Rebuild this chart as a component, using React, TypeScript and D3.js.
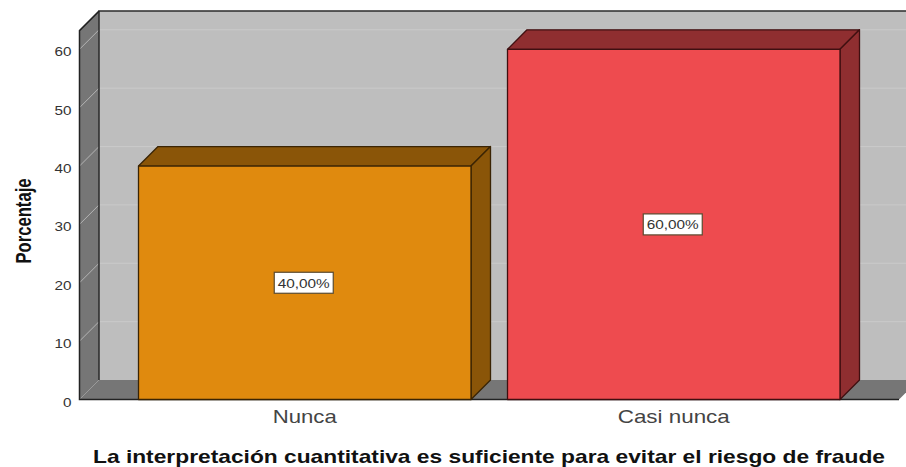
import React from "react";
import * as d3 from "d3";

const categories = ["Nunca", "Casi nunca"];
const values = [40, 60];
const labels = ["40,00%", "60,00%"];
const yTicks = [0, 10, 20, 30, 40, 50, 60];
const frontColors = ["#e08a0e", "#ee4b4f"];
const topColors = ["#8a5508", "#8f2e30"];
const sideColors = ["#8a5508", "#8f2e30"];
const edgeColors = ["#3a2404", "#3f0f10"];

const W = 906, H = 467;
const depth = 19.5;
const drop = 19.5;
const left = 79.5, right = 899;
const y = d3.scaleLinear().domain([0, 60]).range([399.5, 49.3]);
const yMax = 63.2;
const font = "'Liberation Sans', Arial, sans-serif";

const poly = (p: number[][]) => p.map(a => a.join(",")).join(" ");

export default function App() {
  const top = y(yMax);
  const barW = 332.5;
  const barX = [138.5, 507.5];
  const catW = [64, 112];
  return (
    <svg width={W} height={H} style={{ position: "absolute", left: 0, top: 0, background: "#fff" }}>
      <rect x={left + depth} y={top - drop} width={W} height={y(0) - top} fill="#bebebe" />
      <polygon points={poly([[left, top], [left + depth, top - drop], [left + depth, y(0) - drop], [left, y(0)]])} fill="#767676" />
      <polygon points={poly([[left, y(0)], [left + depth, y(0) - drop], [right + depth, y(0) - drop], [right, y(0)]])} fill="#767676" />
      {yTicks.slice(1).map(t => (
        <g key={t}>
          <line x1={left + depth} x2={W} y1={y(t) - drop} y2={y(t) - drop} stroke="#cacaca" strokeWidth={1} />
          <line x1={left} x2={left + depth} y1={y(t)} y2={y(t) - drop} stroke="#b4b4b4" strokeWidth={1} />
        </g>
      ))}
      <line x1={left} x2={left + depth} y1={y(0)} y2={y(0) - drop} stroke="#9a9a9a" strokeWidth={1} />
      <polyline points={poly([[W, top - drop], [left + depth, top - drop], [left + depth, y(0) - drop]])} fill="none" stroke="#2a2a2a" strokeWidth={1.5} />
      <polyline points={poly([[left + depth, top - drop], [left, top], [left, y(0)], [right, y(0)]])} fill="none" stroke="#222" strokeWidth={1.5} />
      {categories.map((c, i) => {
        const x0 = barX[i];
        const x1 = x0 + barW;
        const yT = y(values[i]);
        const yB = y(0);
        return (
          <g key={c} stroke={edgeColors[i]} strokeWidth={1.3} strokeLinejoin="round">
            <polygon points={poly([[x0, yT], [x0 + depth, yT - drop], [x1 + depth, yT - drop], [x1, yT]])} fill={topColors[i]} />
            <polygon points={poly([[x1, yT], [x1 + depth, yT - drop], [x1 + depth, yB - drop], [x1, yB]])} fill={sideColors[i]} />
            <rect x={x0} y={yT} width={barW} height={yB - yT} fill={frontColors[i]} />
          </g>
        );
      })}
      {categories.map((c, i) => {
        const cx = barX[i] + barW / 2 - 1;
        const cy = y(values[i] / 2);
        return (
          <g key={c + "l"}>
            <rect x={cx - 29.5} y={cy - 10.5} width={59} height={21} fill="#fff" stroke="#5a4a30" strokeWidth={1.2} />
            <text x={cx} y={cy + 5} textAnchor="middle" fontFamily={font} fontSize={13.5} fill="#333" textLength={52} lengthAdjust="spacingAndGlyphs">{labels[i]}</text>
          </g>
        );
      })}
      {yTicks.map(t => (
        <text key={t} x={71.5} y={y(t) + 7} textAnchor="end" fontFamily={font} fontSize={13} fill="#333" textLength={t === 0 ? 8.5 : 17} lengthAdjust="spacingAndGlyphs">{t}</text>
      ))}
      <text transform="translate(31,221) rotate(-90)" textAnchor="middle" fontFamily={font} fontWeight="bold" fontSize={22} fill="#111" textLength={85} lengthAdjust="spacingAndGlyphs">Porcentaje</text>
      {categories.map((c, i) => (
        <text key={c + "x"} x={barX[i] + barW / 2} y={423} textAnchor="middle" fontFamily={font} fontSize={19} fill="#444" textLength={catW[i]} lengthAdjust="spacingAndGlyphs">{c}</text>
      ))}
      <text x={489} y={463} textAnchor="middle" fontFamily={font} fontWeight="bold" fontSize={18.5} fill="#111" textLength={792} lengthAdjust="spacingAndGlyphs">La interpretación cuantitativa es suficiente para evitar el riesgo de fraude</text>
    </svg>
  );
}
